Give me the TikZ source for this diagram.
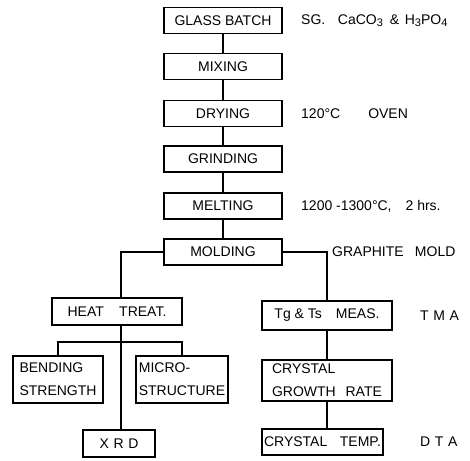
\documentclass[tikz,border=0pt]{standalone}
\usepackage{fontspec}
\setmainfont{Liberation Sans}
\newcommand{\sbs}[1]{\raisebox{-0.35ex}{\fontsize{11}{11}\selectfont #1}}
\begin{document}
\begin{tikzpicture}[x=1pt,y=-1pt,
  box/.style={draw,line width=1.2pt,inner sep=0pt,font=\fontsize{14}{23}\selectfont},
  lbl/.style={anchor=west,inner sep=0pt,font=\fontsize{14}{23}\selectfont},
  conn/.style={line width=1.1pt}]
\useasboundingbox (0,0) rectangle (470,460);
% main column
\node[box,minimum width=118pt,minimum height=26pt] (GB) at (223,20.5) {GLASS BATCH};
\node[box,minimum width=118pt,minimum height=26pt] (MIX) at (223,66.5) {MIXING};
\node[box,minimum width=118pt,minimum height=26pt] (DRY) at (223,113.5) {DRYING};
\node[box,minimum width=118pt,minimum height=26pt] (GRI) at (223,159) {GRINDING};
\node[box,minimum width=118pt,minimum height=26pt] (MEL) at (223,206) {MELTING};
\node[box,minimum width=118pt,minimum height=26pt] (MOL) at (223,252) {MOLDING};
% left branch
\node[box,minimum width=130pt,minimum height=27pt] (HT) at (117,311.5) {HEAT\hspace{1.1em}TREAT.};
\node[box,minimum width=90pt,minimum height=47pt,align=left] (BS) at (58,379.5) {BENDING\\STRENGTH};
\node[box,minimum width=92pt,minimum height=47pt,align=left] (MS) at (182,379.5) {MICRO-\\STRUCTURE};
\node[box,minimum width=72pt,minimum height=27pt] (XRD) at (119,443.5) {X\,\,R\,\,D};
% right branch
\node[box,minimum width=130pt,minimum height=29pt] (TG) at (327,315.5) {Tg \& Ts\hspace{1em}MEAS.};
\node[box,minimum width=130pt,minimum height=41pt,align=left] (CG) at (327,380.5) {CRYSTAL\\GROWTH\hspace{0.7em}RATE};
\node[box,minimum width=121pt,minimum height=26pt] (CT) at (322.5,442) {CRYSTAL\hspace{0.9em}TEMP.};
% labels
\node[lbl] (L1) at (301,20.5) {SG.\hspace{0.9em}CaCO\sbs{3}\hspace{0.5em}\&\hspace{0.4em}H\sbs{3}PO\sbs{4}};
\node[lbl] (L2) at (301,113.5) {120°C\hspace{2em}OVEN};
\node[lbl] (L3) at (301,206) {1200 -1300°C,\hspace{1em}2 hrs.};
\node[lbl] (L4) at (332,252) {GRAPHITE\hspace{0.8em}MOLD};
\node[lbl] (L5) at (420,315.5) {T\,\,M\,\,A};
\node[lbl] (L6) at (420,442) {D\,\,T\,\,A};
% connectors
\coordinate (hx) at (121,0);
\coordinate (br) at (121,342);
\draw[conn] (GB) -- (MIX);
\draw[conn] (MIX) -- (DRY);
\draw[conn] (DRY) -- (GRI);
\draw[conn] (GRI) -- (MEL);
\draw[conn] (MEL) -- (MOL);
\draw[conn] (MOL.west) -| (HT.north -| hx);
\draw[conn] (HT.south -| hx) -- (XRD.north -| hx);
\draw[conn] (BS.north) |- (br) -| (MS.north);
\draw[conn] (MOL.east) -| (TG.north);
\draw[conn] (TG) -- (CG);
\draw[conn] (CG.south) -- (CG.south |- CT.north);
\end{tikzpicture}
\end{document}
